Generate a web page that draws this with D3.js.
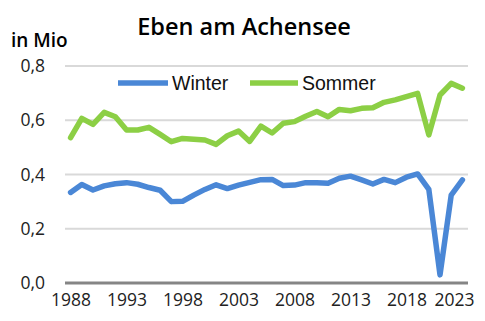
<!DOCTYPE html>
<html>
<head>
<meta charset="utf-8">
<script src="https://cdn.jsdelivr.net/npm/d3@7"></script>
<style>
  html, body { margin: 0; padding: 0; background: #fff; }
  svg { display: block; }
</style>
</head>
<body>
<svg id="chart" width="485" height="321"></svg>
<script>
// Übernachtungen in Mio, Eben am Achensee
const years = d3.range(1988, 2024);
const winter = [0.334, 0.363, 0.343, 0.358, 0.366, 0.370, 0.364, 0.352, 0.342, 0.300, 0.301,
  0.324, 0.345, 0.362, 0.348, 0.361, 0.371, 0.381, 0.382, 0.359, 0.361, 0.370, 0.370, 0.368,
  0.386, 0.394, 0.380, 0.365, 0.382, 0.370, 0.390, 0.402, 0.345, 0.030, 0.324, 0.380];
const sommer = [0.536, 0.607, 0.585, 0.629, 0.613, 0.564, 0.564, 0.574, 0.548, 0.521, 0.533,
  0.530, 0.527, 0.511, 0.543, 0.560, 0.522, 0.578, 0.553, 0.589, 0.595, 0.615, 0.632, 0.613,
  0.640, 0.635, 0.644, 0.646, 0.666, 0.675, 0.687, 0.699, 0.546, 0.693, 0.736, 0.718];
const yTicks = [0, 0.2, 0.4, 0.6, 0.8];
const xTickYears = [1988, 1993, 1998, 2003, 2008, 2013, 2018, 2023];
const series = [
  { name: "Winter", values: winter, color: "#4a87d6" },
  { name: "Sommer", values: sommer, color: "#8ccf45" }
];

const svg = d3.select("#chart");
const W = 485, H = 321;
const plot = { left: 65, right: 468, top: 66, bottom: 283 };

const x = d3.scalePoint().domain(years).range([plot.left, plot.right]).padding(0.5);
const y = d3.scaleLinear().domain([0, 0.8]).range([plot.bottom, plot.top]);

const de = d3.formatLocale({ decimal: ",", thousands: ".", grouping: [3], currency: ["", " €"] });
const fmt = de.format(".1f");

// Title and unit label
svg.append("text")
  .attr("x", 244).attr("y", 35)
  .attr("text-anchor", "middle")
  .attr("font-family", "'Open Sans', sans-serif")
  .attr("font-weight", 600)
  .attr("font-size", 23.5)
  .attr("fill", "#000")
  .text("Eben am Achensee");

svg.append("text")
  .attr("x", 11).attr("y", 47)
  .attr("font-family", "'Open Sans', sans-serif")
  .attr("font-weight", 600)
  .attr("font-size", 19)
  .attr("fill", "#000")
  .text("in Mio");

// Horizontal gridlines
svg.append("g")
  .selectAll("line")
  .data(yTicks.filter(d => d > 0))
  .join("line")
  .attr("x1", plot.left).attr("x2", plot.right)
  .attr("y1", d => y(d)).attr("y2", d => y(d))
  .attr("stroke", "#d9d9d9")
  .attr("stroke-width", 2);

// Y axis labels
const yAxis = svg.append("g")
  .attr("transform", `translate(${plot.left},0)`)
  .call(d3.axisLeft(y).tickValues(yTicks).tickFormat(fmt).tickSize(0).tickPadding(20));
yAxis.select(".domain").remove();
yAxis.selectAll("text")
  .attr("font-family", "'Open Sans', sans-serif")
  .attr("font-size", 17.5)
  .attr("fill", "#222");

// X axis
const xAxis = svg.append("g")
  .attr("transform", `translate(0,${plot.bottom})`)
  .call(d3.axisBottom(x).tickValues(xTickYears).tickSize(0).tickPadding(11));
xAxis.select(".domain").remove();
xAxis.selectAll("text")
  .attr("font-family", "'Open Sans', sans-serif")
  .attr("font-size", 17.5)
  .attr("fill", "#222");
// keep the last year label inside the frame
xAxis.selectAll(".tick").filter(d => d === 2023).select("text")
  .attr("text-anchor", "end")
  .attr("x", W - 11 - x(2023));

// Lines
const line = d3.line()
  .x((d, i) => x(years[i]))
  .y(d => y(d));

svg.append("g")
  .selectAll("path")
  .data(series)
  .join("path")
  .attr("d", s => line(s.values))
  .attr("fill", "none")
  .attr("stroke", s => s.color)
  .attr("stroke-width", 5.5)
  .attr("stroke-linejoin", "round")
  .attr("stroke-linecap", "round");

// Zero baseline
svg.append("line")
  .attr("x1", plot.left).attr("x2", plot.right)
  .attr("y1", y(0)).attr("y2", y(0))
  .attr("stroke", "#858585")
  .attr("stroke-width", 3);

// Legend
const legendItems = [
  { s: series[0], x1: 118, x2: 168, tx: 172 },
  { s: series[1], x1: 250, x2: 298, tx: 302 }
];
const lg = svg.append("g");
legendItems.forEach(it => {
  lg.append("line")
    .attr("x1", it.x1).attr("x2", it.x2)
    .attr("y1", 83).attr("y2", 83)
    .attr("stroke", it.s.color)
    .attr("stroke-width", 5.5);
  lg.append("text")
    .attr("x", it.tx).attr("y", 90)
    .attr("font-family", "'Liberation Sans', Arial, sans-serif")
    .attr("font-size", 19.5)
    .attr("fill", "#111")
    .text(it.s.name);
});
</script>
</body>
</html>
